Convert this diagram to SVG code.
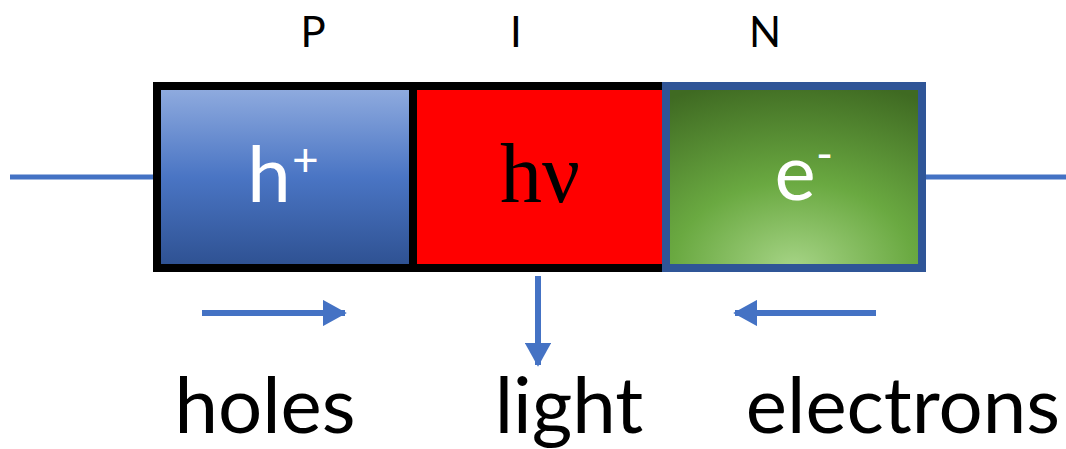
<svg xmlns="http://www.w3.org/2000/svg" width="1066" height="449" viewBox="0 0 1066 449">
  <defs>
    <linearGradient id="gBlue" x1="0" y1="0" x2="0" y2="1">
      <stop offset="0" stop-color="#8eaade"/>
      <stop offset="0.5" stop-color="#4a75c4"/>
      <stop offset="1" stop-color="#2f5293"/>
    </linearGradient>
    <radialGradient id="gGreen" cx="0.5" cy="1" r="1.05" fx="0.5" fy="1">
      <stop offset="0" stop-color="#a6d486"/>
      <stop offset="0.45" stop-color="#6aa941"/>
      <stop offset="1" stop-color="#3f6a22"/>
    </radialGradient>
    <marker id="ah" markerWidth="4" markerHeight="4.4" refX="3.7" refY="2.2" orient="auto" markerUnits="strokeWidth">
      <path d="M0,0 L4,2.2 L0,4.4 Z" fill="#4472C4"/>
    </marker>
  </defs>
  <style>
    .wire { stroke: #4472C4; stroke-width: 5; fill: none; }
    .arr { stroke: #4472C4; stroke-width: 6; fill: none; marker-end: url(#ah); }
    .big { font-family: Lato, "Open Sans", "DejaVu Sans", sans-serif; font-size: 78px; text-anchor: middle; }
    .serif { font-family: "Liberation Serif", "DejaVu Serif", serif; font-size: 84px; text-anchor: middle; }
    .top { font-family: Lato, "Open Sans", sans-serif; font-size: 42px; fill: #000; text-anchor: middle; }
    .sup { font-family: Lato, "Open Sans", sans-serif; font-size: 46px; fill: #fff; }
  </style>
  <rect width="1066" height="449" fill="#ffffff"/>

  <g id="connectors">
    <line class="wire" x1="10" y1="177" x2="154" y2="177"/>
    <line class="wire" x1="925" y1="177" x2="1066" y2="177"/>
    <line class="arr" x1="202" y1="313" x2="345" y2="313"/>
    <line class="arr" x1="538" y1="276" x2="538" y2="365"/>
    <line class="arr" x1="876" y1="313" x2="735" y2="313"/>
  </g>

  <g id="body">
    <rect x="153" y="82" width="513" height="190" fill="#000"/>
  </g>

  <g id="p-region">
    <rect x="161" y="90" width="248" height="174" fill="url(#gBlue)"/>
    <text class="big" x="269" y="202" fill="#fff">h</text>
    <text class="sup" x="292" y="176">+</text>
  </g>

  <g id="i-region">
    <rect x="417" y="90" width="245" height="174" fill="#ff0000"/>
    <text class="serif" x="540" y="202" fill="#000">hν</text>
  </g>

  <g id="n-region">
    <rect x="666" y="86" width="256" height="182" fill="url(#gGreen)" stroke="#2f5597" stroke-width="8"/>
    <text class="big" x="795" y="200" fill="#fff">e</text>
    <text class="sup" x="816" y="170">-</text>
  </g>

  <g id="labels">
    <text class="top" x="313" y="47">P</text>
    <text class="top" x="516" y="47">I</text>
    <text class="top" x="765" y="47">N</text>
    <text class="big" x="265" y="433" fill="#000">holes</text>
    <text class="big" x="569" y="433" fill="#000">light</text>
    <text class="big" x="903" y="433" fill="#000">electrons</text>
  </g>
</svg>
